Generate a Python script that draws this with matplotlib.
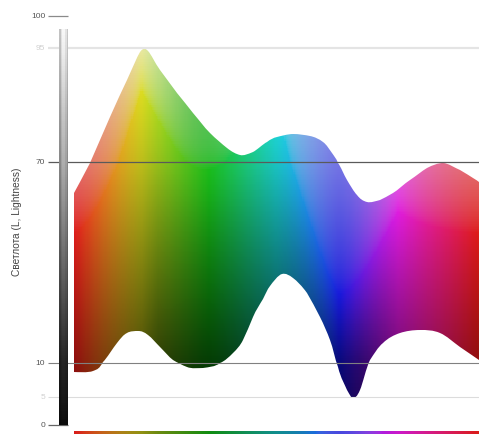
import numpy as np
import matplotlib
matplotlib.use("Agg")
import matplotlib.pyplot as plt
from matplotlib.path import Path
from matplotlib.patches import PathPatch
from matplotlib.colors import hsv_to_rgb

# ---- data (hue in degrees, lightness L) ----
upper_hue = [0, 14.2, 32, 47.1, 58.7, 65.8, 76.4, 91.6, 105.8, 120.9, 136, 147.6,
             159.1, 171.6, 180.4, 194.7, 209.8, 221.3, 229.3, 234.7, 242.7, 251.6,
             260.4, 272, 283.6, 298.7, 313.8, 328, 343.1, 354.7, 360]
upper_L = [60.7, 69.7, 79.9, 88.0, 94.1, 94.3, 90.2, 85.1, 80.7, 76.4, 73.1, 71.5,
           72.2, 74.4, 75.5, 76.1, 75.7, 74.4, 72.0, 69.7, 64.6, 60.1,
           58.1, 58.7, 60.7, 64.6, 68.2, 69.7, 67.6, 65.2, 64.0]
lower_hue = [0, 16.9, 25.8, 38.2, 47.1, 56.9, 65.8, 76.4, 88, 100.4, 114.7, 129.8,
             141.3, 150.2, 159.1, 168, 174.2, 184.9, 194.7, 207.1, 218.7, 227.6,
             234.7, 242.7, 248, 254.2, 263.1, 274.7, 289.8, 307.6, 325.3, 343.1, 360]
lower_L = [8.7, 8.8, 10.3, 16.0, 19.0, 19.6, 18.4, 14.8, 10.9, 9.4, 9.3, 10.0,
           13.0, 16.9, 23.7, 29.2, 33.0, 36.6, 35.4, 30.9, 23.7, 16.9,
           9.4, 6.0, 4.8, 6.0, 10.9, 16.0, 19.0, 19.9, 19.0, 14.8, 10.9]
tick_values = [0, 5, 10, 70, 95, 100]
tick_labels = ["0", "5", "10", "70", "95", "100"]
y_label = "Светлота (L, Lightness)"

# ---- non-linear lightness axis (piecewise linear, as in the reference) ----
L_keys = np.array([-10, 0, 5, 10, 70, 95, 100, 110], float)
H_keys = np.array([-56, 0, 28, 62, 263, 377, 409, 473], float)


def fwd(v):
    return np.interp(v, L_keys, H_keys)


def inv(v):
    return np.interp(v, H_keys, L_keys)


def s2l(c):
    return np.where(c <= 0.04045, c / 12.92, ((c + 0.055) / 1.055) ** 2.4)


def l2s(c):
    c = np.clip(c, 0, 1)
    return np.where(c <= 0.0031308, c * 12.92, 1.055 * c ** (1 / 2.4) - 0.055)


def Y2L(Y):
    return np.where(Y > 0.008856, 116 * np.cbrt(Y) - 16, 903.3 * Y)


def L2Y(L):
    return np.where(L > 8, ((L + 16) / 116) ** 3, L / 903.3)


def band_color(H, L):
    Hc = H + 12 * np.exp(-((H - 290) / 50.0) ** 2)
    bg = np.exp(-((H - 115) / 45.0) ** 2)
    val = 0.9 - 0.15 * bg
    hsv = np.stack([(Hc % 360) / 360.0, np.full_like(H, 0.9), val], -1)
    base = hsv_to_rgb(hsv)
    lin = s2l(base)
    Yb = lin @ np.array([0.2126, 0.7152, 0.0722])
    Lp = Y2L(Yb)
    w = np.clip(np.cos(np.radians(H + 15)), 0, 1)
    a_l = 0.4 + 0.4 * bg
    a_d = 0.2 + 0.35 * w
    s = 1.0 / (1.0 + np.exp(-(L - Lp) / 6.0))
    a = a_d + (a_l - a_d) * s
    Lt = L + a * (Lp - L)
    Yt = L2Y(np.clip(Lt, 0, 100))
    k = np.clip(Yt / Yb, 0, 1)[..., None]
    t = np.clip((Yt - Yb) / (1 - Yb), 0, 1)[..., None]
    dark = lin * k
    light = lin + t * (1 - lin)
    out = l2s(np.where((Lt < Lp)[..., None], dark, light))
    grey = (out @ np.array([0.3, 0.59, 0.11]))[..., None]
    return np.clip(out * 0.94 + grey * 0.06, 0, 1)


def catmull(xs, ys):
    P = np.column_stack([xs, ys]).astype(float)
    n = len(P)
    verts = [P[0]]
    codes = [Path.MOVETO]
    for i in range(n - 1):
        p0 = P[i - 1] if i > 0 else P[i]
        p1, p2 = P[i], P[i + 1]
        p3 = P[i + 2] if i + 2 < n else P[i + 1]
        c1 = p1 + (p2 - p0) / 6.0
        c2 = p2 - (p3 - p1) / 6.0
        verts += [c1, c2, p2]
        codes += [Path.CURVE4] * 3
    return verts, codes


fig = plt.figure(figsize=(4.79, 4.34), dpi=100)
ax = fig.add_axes([0, 0, 1, 1])
ax.set_yscale("function", functions=(fwd, inv))
ax.set_xlim(-65.78, 360)
ax.set_ylim(-1.607, 102.5)
ax.set_axis_off()

# band outline
uv, uc = catmull(upper_hue, upper_L)
lv, lc = catmull(lower_hue[::-1], lower_L[::-1])
lc[0] = Path.LINETO
verts = uv + lv + [uv[0]]
codes = uc + lc + [Path.CLOSEPOLY]
band_path = Path(np.array(verts), codes)
clip = PathPatch(band_path, transform=ax.transData, facecolor="none", edgecolor="none")
ax.add_patch(clip)

hue_edges = np.linspace(0, 360, 361)
L_edges = np.linspace(0, 100, 201)
hc = (hue_edges[:-1] + hue_edges[1:]) / 2
Lc = (L_edges[:-1] + L_edges[1:]) / 2
HH, LL = np.meshgrid(hc, Lc)
rgb = band_color(HH, LL)
mesh = ax.pcolormesh(hue_edges, L_edges, rgb, shading="flat", zorder=1)
mesh.set_clip_path(clip)

# bottom spectrum strip
sh, sl = np.meshgrid(hc, [0.5])
strip = band_color(sh, np.full_like(sh, 47.0))
ax.pcolormesh(hue_edges, [-1.61, -1.07], strip, shading="flat", zorder=1)

# horizontal reference lines
x0 = -23.1
ax.hlines(95, x0, 360, colors="#e4e4e4", lw=1.6, zorder=3)
ax.hlines(70, x0, 360, colors="#5a5a5a", lw=0.9, zorder=3)
ax.hlines(10, x0, 360, colors="#808080", lw=0.8, zorder=3)
ax.hlines(5, x0, 360, colors="#dcdcdc", lw=0.8, zorder=3)
ax.hlines(100, x0, -5.3, colors="#8a8a8a", lw=0.9, zorder=3)
ax.hlines(0, x0, -5.3, colors="#666666", lw=0.9, zorder=3)

# grey lightness bar
bx = np.linspace(-13.3, -5.3, 7)
by = np.linspace(0, 98, 197)
byc = (by[:-1] + by[1:]) / 2
prof = np.array([0.78, 0.92, 1.0, 1.0, 0.92, 0.8])
g = np.clip(0.05 + 0.9 * byc / 100, 0, 0.95)[:, None] * prof[None, :]
g = np.clip(g + (byc[:, None] > 80) * (byc[:, None] - 80) / 18 * 0.04, 0, 0.97)
bar = np.repeat(g[..., None], 3, axis=2)
ax.pcolormesh(bx, by, bar, shading="flat", zorder=4)

# tick labels
light = {5, 95}
for v, t in zip(tick_values, tick_labels):
    ax.text(-25.5, v, t, ha="right", va="center", fontsize=6,
            family=["Liberation Sans Narrow", "Liberation Sans", "DejaVu Sans"],
            color="#d0d0d0" if v in light else "#555555", zorder=5)

ax.text(-50.7, 52.1, y_label, rotation=90, ha="center", va="center", fontsize=7.3,
        family=["Liberation Sans", "DejaVu Sans"], color="#444444")

fig.savefig("out.png", dpi=100)
